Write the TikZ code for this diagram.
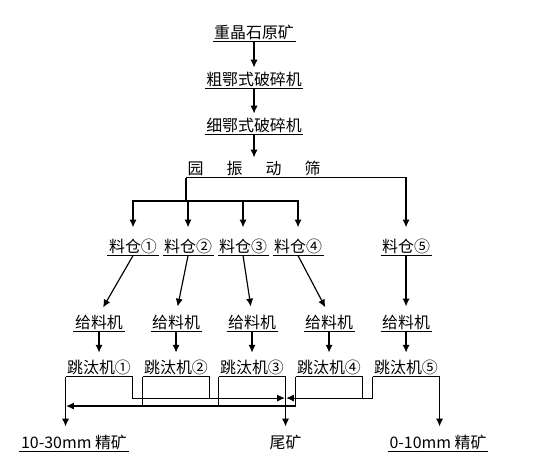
\documentclass[tikz,border=0pt]{standalone}
\usepackage{fontspec}
\setmainfont{Noto Sans CJK SC}
\usetikzlibrary{arrows.meta}

\begin{document}
\begin{tikzpicture}[line width=1.1pt,
    txt/.style={font=\fontsize{15.1pt}{18pt}\selectfont, text height=12pt, text depth=0.8pt, inner xsep=1pt, inner ysep=1.2pt},
    ul/.style={txt, append after command={(\tikzlastnode.south west) edge (\tikzlastnode.south east)}},
    arr/.style={-{Latex[length=2.6mm, width=2.4mm]}}]
      \useasboundingbox (0,0) rectangle (17.83,15.5);
      \node[ul] (ore) at (8.467,14.4) {重晶石原矿};
      \node[ul] (coarse) at (8.467,12.833) {粗鄂式破碎机};
      \node[ul] (fine) at (8.467,11.3) {细鄂式破碎机};
      \node[txt] (screen) at (8.467,9.867) {园\hspace{1.45em}振\hspace{1.45em}动\hspace{1.45em}筛};
      \draw[arr, shorten >=0.13cm] (ore) -- (coarse);
      \draw[arr, shorten >=0.13cm] (coarse) -- (fine);
      \draw[arr, shorten >=0.1cm] (fine) -- (screen);
      \foreach \x/\c [count=\i] in {4.433/①,6.267/②,8.1/③,9.933/④,13.533/⑤} {
        \node[ul] (bin\i) at (\x,7.267) {料仓\c};
      }
      \coordinate (split) at (screen.south west |- 0,8.8);
      \draw (screen.south west) -- (split);
      \draw[arr, shorten >=0.37cm] (screen.south west) -| (bin5);
      \foreach \i in {1,...,4} {
        \draw[arr, shorten >=0.37cm] (split) -| (bin\i);
      }
      \foreach \x/\c [count=\i] in {3.3/①,5.867/②,8.4/③,10.967/④,13.533/⑤} {
        \node[ul] (feed\i) at (\x,4.733) {给料机};
        \node[ul] (jig\i) at (\x,3.233) {跳汰机\c};
        \draw[arr, shorten >=0.27cm] (bin\i.south) -- (feed\i.north);
        \draw[arr, shorten >=0.23cm] (feed\i) -- (jig\i);
      }
      \node[ul] (conc1) at (2.467,0.733) {10-30mm 精矿};
      \node[txt] (tail) at (jig3.south east |- 0,0.733) {尾矿};
      \node[ul] (conc2) at (14.6,0.733) {0-10mm 精矿};
      \coordinate (tjoin) at (jig3.south east |- 0,2.233);
      \coordinate (cjoin) at (jig1.south west |- 0,1.967);
      % jig outputs
      \draw[arr, shorten >=0.27cm] (jig1.south west) -- (jig1.south west |- conc1.north);
      \draw[arr, shorten >=0.6pt] (jig1.south east) |- (tjoin);
      \draw (jig2.south east) -- (jig2.south east |- tjoin);
      \draw (jig2.south west) -- (jig2.south west |- cjoin);
      \draw (jig3.south west) -- (jig3.south west |- cjoin);
      \draw[arr, shorten >=0.27cm] (jig3.south east) -- (tail);
      \draw[arr, shorten >=0.6pt] (jig4.south west) |- (cjoin);
      \draw (jig4.south east) -- (jig4.south east |- tjoin);
      \draw[arr, shorten >=0.6pt] (jig5.south west) |- (tjoin);
      \draw[arr, shorten >=0.27cm] (jig5.south east) -- (jig5.south east |- conc2.north);
    \end{tikzpicture}
\end{document}
